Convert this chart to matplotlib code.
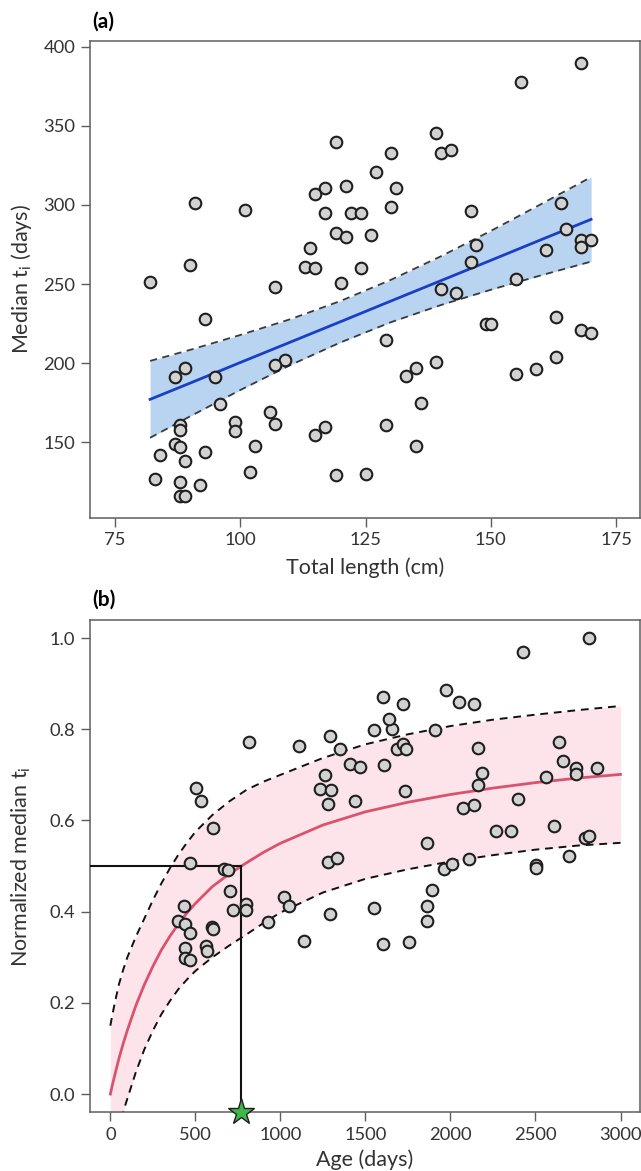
import matplotlib
matplotlib.use("Agg")
import matplotlib.pyplot as plt
import numpy as np

plt.rcParams['font.family'] = ['Lato', 'DejaVu Sans']

# ---------------- Panel (a) data ----------------
length_cm = [82, 91, 101, 90, 107, 119, 130, 127, 131, 117, 121, 115, 117, 122, 124, 130,
             119, 121, 126, 114, 113, 115, 124, 120, 139, 140, 142, 146, 147, 146, 140, 143,
             156, 168, 164, 165, 168, 170, 168, 161, 155, 93, 149, 150, 163, 168, 170, 129,
             163, 139, 135, 133, 155, 159, 136, 129, 135, 109, 107, 89, 87, 95, 96, 106,
             107, 99, 99, 115, 117, 103, 88, 88, 87, 88, 84, 89, 93, 83, 88, 92, 102, 88,
             89, 119, 125]
median_ti = [251, 301, 297, 262, 248, 339.5, 333, 321, 311, 311, 312, 307, 295, 295, 295, 299,
             282, 279.5, 281, 272.5, 261, 260, 260, 250.5, 345.5, 333, 335, 296, 275, 264, 247, 244.5,
             378, 389.5, 301, 285, 278, 278, 273.5, 271.5, 253, 228, 225, 225, 229, 221, 219, 214.5,
             204, 200.5, 197, 192, 193, 196.5, 174.5, 161, 147.5, 202, 199, 197, 191, 191.5, 174, 169,
             161.5, 162.5, 157, 154.5, 159.5, 147.5, 161, 157.5, 149, 147, 142, 138, 144, 126.5, 125, 123, 131.5, 116,
             116, 129.5, 130]

# fitted line and confidence band
fit_x = [82, 90, 100, 110, 120, 130, 140, 150, 160, 170]
fit_y = [177.1, 187.4, 200.4, 213.3, 226.2, 239.2, 252.1, 265.0, 278.0, 290.9]
fit_upper = [201.4, 208.4, 217.8, 227.8, 239.3, 252.6, 267.5, 283.6, 300.5, 317.6]
fit_lower = [152.8, 166.4, 183.0, 198.8, 213.1, 225.8, 236.7, 246.4, 255.5, 264.2]

# ---------------- Panel (b) data ----------------
age_days = [399, 435, 441, 468, 439, 439, 468, 562, 568, 598, 605, 704, 724, 798, 798, 930,
            468, 670, 693, 505, 533, 605, 817,
            1020, 1051, 1137, 1111, 1292, 1551, 1604, 1759, 1862, 1862, 1889,
            1279, 1334, 1962, 2012, 2109, 2503, 2503, 2695, 1862,
            2267, 2356, 2608, 2789, 2816,
            2075, 2138, 2397, 1279, 1440, 1732,
            1232, 1295, 1264, 2160, 2185, 2559,
            2740, 2740, 2863, 2659, 1407, 1468, 1611,
            2636, 2160, 1683, 1722, 1738, 1350, 1291,
            1552, 1656, 1911, 1638, 1605, 1722, 1971, 2052, 2136, 2425, 2815]
norm_ti = [0.380, 0.412, 0.374, 0.354, 0.320, 0.298, 0.295, 0.325, 0.313, 0.367, 0.362, 0.446, 0.403, 0.417, 0.403, 0.377,
           0.506, 0.493, 0.491, 0.672, 0.643, 0.584, 0.773,
           0.433, 0.413, 0.336, 0.763, 0.395, 0.408, 0.330, 0.333, 0.413, 0.380, 0.448,
           0.510, 0.518, 0.493, 0.504, 0.515, 0.502, 0.495, 0.523, 0.551,
           0.576, 0.576, 0.587, 0.562, 0.566,
           0.627, 0.633, 0.648, 0.637, 0.642, 0.665,
           0.669, 0.666, 0.699, 0.678, 0.704, 0.696,
           0.714, 0.702, 0.714, 0.730, 0.724, 0.717, 0.721,
           0.773, 0.759, 0.757, 0.768, 0.756, 0.756, 0.786,
           0.798, 0.800, 0.798, 0.822, 0.871, 0.855, 0.886, 0.859, 0.855, 0.970, 1.000]

curve_age = [0, 10, 25, 50, 75, 100, 150, 200, 250, 300, 350, 400, 450, 500, 600, 700, 800, 900,
             1000, 1250, 1500, 1750, 2000, 2250, 2500, 2750, 3000]
curve_mid = [0.0, 0.017, 0.040, 0.077, 0.110, 0.140, 0.194, 0.240, 0.280, 0.316, 0.346, 0.373,
             0.397, 0.418, 0.455, 0.483, 0.507, 0.530, 0.550, 0.590, 0.619, 0.640, 0.657, 0.671,
             0.683, 0.693, 0.701]
curve_upper = [0.150, 0.170, 0.198, 0.240, 0.272, 0.300, 0.345, 0.385, 0.425, 0.462, 0.495, 0.525,
               0.551, 0.575, 0.612, 0.642, 0.667, 0.685, 0.700, 0.737, 0.767, 0.789, 0.807, 0.821,
               0.832, 0.842, 0.851]
curve_lower = [-0.140, -0.126, -0.105, -0.070, -0.040, -0.010, 0.048, 0.098, 0.139, 0.175, 0.204,
               0.230, 0.251, 0.270, 0.300, 0.326, 0.350, 0.375, 0.398, 0.442, 0.472, 0.493, 0.510,
               0.524, 0.536, 0.545, 0.551]

half_age = 767
half_value = 0.5

# ---------------- Figure ----------------
fig = plt.figure(figsize=(6.41, 11.71), dpi=100)
ax1 = fig.add_axes([0.1403, 0.5579, 0.8577, 0.4073])
ax2 = fig.add_axes([0.1403, 0.0501, 0.8577, 0.4204])

frame_col = '#5e5e5e'
for ax in (ax1, ax2):
    for s in ax.spines.values():
        s.set_color(frame_col)
        s.set_linewidth(1.1)
    ax.tick_params(direction='out', length=6.5, width=1.0, color=frame_col,
                   labelsize=13.2, labelcolor='#333333', pad=4)

pt_kw = dict(marker='o', s=70, facecolor='#d2d2d2', edgecolor='#1e1e1e', linewidth=1.5, zorder=5)
lab_kw = dict(fontsize=15.5, color='#333333')

# panel (a)
ax1.fill_between(fit_x, fit_lower, fit_upper, color='#b8d4f0', linewidth=0, zorder=1)
ax1.plot(fit_x, fit_upper, color='#3a3a3a', lw=1.3, ls=(0, (4, 3)), zorder=2)
ax1.plot(fit_x, fit_lower, color='#3a3a3a', lw=1.3, ls=(0, (4, 3)), zorder=2)
ax1.plot(fit_x, fit_y, color='#1a3fc4', lw=2.0, zorder=3)
ax1.scatter(length_cm, median_ti, **pt_kw)
ax1.set_xlim(70, 179.7)
ax1.set_ylim(102.3, 403.8)
ax1.set_xticks([75, 100, 125, 150, 175])
ax1.set_yticks([150, 200, 250, 300, 350, 400])
ax1.set_xlabel('Total length (cm)', **lab_kw)
ax1.set_ylabel('Median t$_{\\mathregular{i}}$ (days)', **lab_kw)
ax1.xaxis.set_label_coords(0.5, -0.105)
ax1.xaxis.label.set_va('center')
ax1.yaxis.set_label_coords(-0.125, 0.5)
ax1.yaxis.label.set_va('center')

# panel (b)
ax2.fill_between(curve_age, curve_lower, curve_upper, color='#fde3ea', linewidth=0, zorder=1)
ax2.plot(curve_age, curve_upper, color='#111111', lw=1.4, ls=(0, (4, 3)), zorder=2)
ax2.plot(curve_age, curve_lower, color='#111111', lw=1.4, ls=(0, (4, 3)), zorder=2)
ax2.plot(curve_age, curve_mid, color='#d9536f', lw=2.0, zorder=3)
ax2.set_xlim(-120, 3113)
ax2.set_ylim(-0.040, 1.0395)
ax2.plot([-120, half_age], [half_value, half_value], color='#111111', lw=1.5, zorder=4)
ax2.plot([half_age, half_age], [half_value, -0.040], color='#111111', lw=1.5, zorder=4)
ax2.scatter(age_days, norm_ti, **pt_kw)
ax2.plot([half_age], [-0.040], marker='*', markersize=20, markerfacecolor='#3fb54a',
         markeredgecolor='#1e1e1e', markeredgewidth=1.0, clip_on=False, zorder=10)
ax2.set_xticks([0, 500, 1000, 1500, 2000, 2500, 3000])
ax2.set_yticks([0.0, 0.2, 0.4, 0.6, 0.8, 1.0])
ax2.set_yticklabels(['0.0', '0.2', '0.4', '0.6', '0.8', '1.0'])
ax2.set_xlabel('Age (days)', **lab_kw)
ax2.set_ylabel('Normalized median t$_{\\mathregular{i}}$', **lab_kw)
ax2.xaxis.set_label_coords(0.5, -0.097)
ax2.xaxis.label.set_va('center')
ax2.yaxis.set_label_coords(-0.125, 0.5)
ax2.yaxis.label.set_va('center')

fig.text(0.1435, 1 - 22 / 1171, '(a)', fontsize=15, fontweight='bold', ha='left', va='center')
fig.text(0.1435, 1 - 600 / 1171, '(b)', fontsize=15, fontweight='bold', ha='left', va='center')

fig.savefig('out.png', dpi=100)
